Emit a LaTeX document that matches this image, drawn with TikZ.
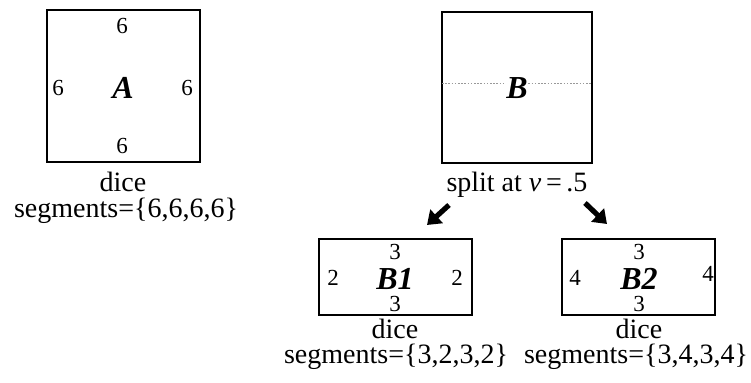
\documentclass[tikz,border=0pt]{standalone}
\usepackage{fontspec}
\setmainfont{Liberation Serif}
\usetikzlibrary{arrows.meta,positioning}

\begin{document}
\begin{tikzpicture}[
    x=0.5pt, y=-0.5pt,
    dicebox/.style={
        draw=black,
        line width=1.3pt,
        inner sep=0pt
    },
    side/.style={
        font=\fontsize{11.5}{12}\selectfont,
        inner sep=0pt
    },
    tag/.style={
        font=\fontsize{16}{18}\selectfont\bfseries\itshape,
        inner sep=0.5pt
    },
    caption/.style={
        font=\fontsize{14}{16}\selectfont,
        anchor=base,
        inner sep=0pt
    },
    cut/.style={
        gray!80,
        dash pattern=on 0.8pt off 0.8pt,
        line width=0.5pt
    },
    splitarrow/.style={
        -{Triangle[length=6.5pt,width=9pt]},
        line width=2.6pt
    }
]
\useasboundingbox (0,0) rectangle (751,383);
% Box A
\node[dicebox, minimum width=76.5pt, minimum height=76pt] at (123.5,86) (boxA) {};
\node[side] at (122,26) (aTop) {6};
\node[side] at (58,88) (aLeft) {6};
\node[side] at (187,88) (aRight) {6};
\node[side] at (122,146) (aBottom) {6};
\node[tag] at (123,88) (tagA) {A};
\node[caption] at (123,192) (diceA) {dice};
\node[caption] at (126,218) (segA) {segments=\{6,6,6,6\}};
% Box B with its cut
\node[dicebox, minimum width=75pt, minimum height=75.5pt] at (517,87.5) (boxB) {};
\coordinate (cutL) at (442,84);
\coordinate (cutR) at (592,84);
\draw[cut] (cutL) -- (cutR);
\node[tag, fill=white, inner sep=0pt] at (517,88) (tagB) {B};
\node[caption] at (517,192) (split) {split at \textit{ν}\,=\,.5};
% Split arrows
\coordinate (leftTail) at (449,205);
\coordinate (leftTip) at (427,225);
\coordinate (rightTail) at (585,203);
\coordinate (rightTip) at (607,224);
\draw[splitarrow] (leftTail) -- (leftTip);
\draw[splitarrow] (rightTail) -- (rightTip);
% Box B1
\node[dicebox, minimum width=76.5pt, minimum height=38pt] at (395.5,277) (boxBa) {};
\node[side] at (395,252) (baTop) {3};
\node[side] at (333,278) (baLeft) {2};
\node[side] at (457,278) (baRight) {2};
\node[side] at (395,304) (baBottom) {3};
\node[tag] at (395,279) (tagBa) {B1};
\node[caption] at (395,339) (diceBa) {dice};
\node[caption] at (396,364) (segBa) {segments=\{3,2,3,2\}};
% Box B2
\node[dicebox, minimum width=76.5pt, minimum height=38pt] at (638.5,277) (boxBb) {};
\node[side] at (639,252) (bbTop) {3};
\node[side] at (575,278) (bbLeft) {4};
\node[side] at (708,274) (bbRight) {4};
\node[side] at (639,304) (bbBottom) {3};
\node[tag] at (639,279) (tagBb) {B2};
\node[caption] at (639,339) (diceBb) {dice};
\node[caption] at (636,364) (segBb) {segments=\{3,4,3,4\}};
\end{tikzpicture}
\end{document}
